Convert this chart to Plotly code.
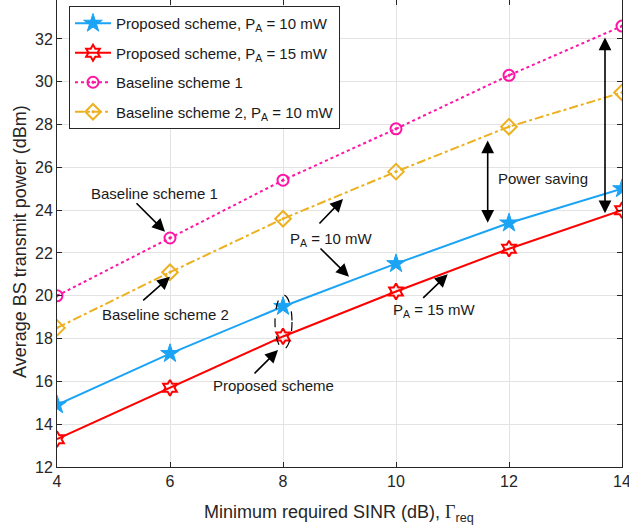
import plotly.graph_objects as go

# ---- data ----
sinr_db = [4, 6, 8, 10, 12, 14]
proposed_10mw = [14.9, 17.3, 19.5, 21.5, 23.4, 25.0]
proposed_15mw = [13.3, 15.7, 18.1, 20.2, 22.2, 24.0]
baseline1 = [20.0, 22.7, 25.4, 27.8, 30.3, 32.6]
baseline2_10mw = [18.5, 21.1, 23.6, 25.8, 27.9, 29.5]
x_ticks = [4, 6, 8, 10, 12, 14]
y_ticks = [12, 14, 16, 18, 20, 22, 24, 26, 28, 30, 32]

W, H = 629, 529
L, R, T, B = 57, 7, 0, 62
PW, PH = W - L - R, H - T - B
XR = [4, 14]
YR = [12, 33.82]
FONT = "Liberation Sans, Arial, sans-serif"

def px2x(px):
    return XR[0] + (px - L) / PW * (XR[1] - XR[0])

def px2y(py):
    return YR[1] - (py - T) / PH * (YR[1] - YR[0])

def ppx(px):
    return (px - L) / PW

def ppy(py):
    return 1 - (py - T) / PH

BLUE = "#1ba3f5"
RED = "#ff0000"
MAG = "#ff14a5"
ORA = "#edb120"

fig = go.Figure()
fig.add_trace(go.Scatter(x=sinr_db, y=proposed_10mw, mode="lines+markers",
                         name="Proposed scheme, P<sub>A</sub> = 10 mW", legendgroup="a",
                         line=dict(color=BLUE, width=2),
                         marker=dict(symbol="star", size=14, color=BLUE, line=dict(color=BLUE, width=1))))
fig.add_trace(go.Scatter(x=sinr_db, y=proposed_15mw, mode="lines+markers",
                         name="Proposed scheme, P<sub>A</sub> = 15 mW", legendgroup="b",
                         line=dict(color=RED, width=2),
                         marker=dict(symbol="hexagram-open", size=12, color=RED, line=dict(color=RED, width=2))))
fig.add_trace(go.Scatter(x=sinr_db, y=baseline1, mode="lines+markers",
                         name="Baseline scheme 1", legendgroup="c",
                         line=dict(color=MAG, width=2, dash="dot"),
                         marker=dict(symbol="circle-open-dot", size=11, color=MAG, line=dict(color=MAG, width=2))))
fig.add_trace(go.Scatter(x=sinr_db, y=baseline2_10mw, mode="lines+markers",
                         name="Baseline scheme 2, P<sub>A</sub> = 10 mW", legendgroup="d",
                         line=dict(color=ORA, width=2, dash="dashdot"),
                         marker=dict(symbol="diamond-open-dot", size=12, color=ORA, line=dict(color=ORA, width=2))))

def text_ann(txt, px, py):
    return dict(text=txt, x=px2x(px), y=px2y(py), xref="x", yref="y", showarrow=False,
                font=dict(family=FONT, size=15, color="#1a1a1a"), xanchor="center", yanchor="middle")

def arrow_ann(px0, py0, px1, py1, both=False):
    return dict(text="", x=px2x(px1), y=px2y(py1), ax=px2x(px0), ay=px2y(py0),
                xref="x", yref="y", axref="x", ayref="y", showarrow=True,
                arrowhead=2, arrowsize=1.6, arrowwidth=1.6, arrowcolor="black",
                arrowside="end+start" if both else "end", standoff=0, startstandoff=0)

anns = [
    text_ann("Baseline scheme 1", 154, 193),
    arrow_ann(135, 201.7, 165, 231.7),
    text_ann("Baseline scheme 2", 165, 314),
    arrow_ann(141.7, 301.7, 170, 276.7),
    text_ann("Proposed scheme", 273, 385),
    arrow_ann(253, 375, 278, 350),
    text_ann("P<sub>A</sub> = 10 mW", 331, 239),
    arrow_ann(318, 225, 343, 199),
    arrow_ann(319, 247, 349, 276.7),
    text_ann("P<sub>A</sub> = 15 mW", 434, 310),
    arrow_ann(421.7, 299.3, 447.7, 274.3),
    text_ann("Power saving", 543, 178),
    arrow_ann(487.7, 139, 487.7, 222.7, both=True),
    arrow_ann(605, 36, 605, 213.3, both=True),
    # axis titles
    dict(text="Minimum required SINR (dB), <span style=\"font-family:'Liberation Serif', 'Times New Roman', serif\">Γ</span><sub>req</sub>",
         x=ppx(339), y=ppy(513), xref="paper", yref="paper", showarrow=False,
         xanchor="center", yanchor="middle", font=dict(family=FONT, size=18, color="#262626")),
    dict(text="Average BS transmit power (dBm)", textangle=-90,
         x=ppx(20), y=ppy(242), xref="paper", yref="paper", showarrow=False,
         xanchor="center", yanchor="middle", font=dict(family=FONT, size=18, color="#262626")),
]

fig.add_shape(type="circle", xref="x", yref="y",
              x0=px2x(275), x1=px2x(292), y0=px2y(349), y1=px2y(295),
              line=dict(color="black", width=1.2, dash="dash"))

axis_common = dict(showline=True, linecolor="#262626", linewidth=1, mirror="ticks",
                   ticks="inside", ticklen=5, tickcolor="#262626", tickwidth=1,
                   showgrid=True, gridcolor="#e3e3e3", gridwidth=1, zeroline=False,
                   tickfont=dict(family=FONT, size=16, color="#262626"), automargin=False,
                   ticklabeloverflow="allow")

fig.update_layout(
    width=W, height=H,
    margin=dict(l=L, r=R, t=T, b=B),
    paper_bgcolor="white", plot_bgcolor="white",
    font=dict(family=FONT, size=15, color="#262626"),
    xaxis=dict(range=XR, tickvals=x_ticks, **axis_common),
    yaxis=dict(range=YR, tickvals=y_ticks, **axis_common),
    legend=dict(x=ppx(69), y=ppy(6),
                xanchor="left", yanchor="top",
                bgcolor="white", bordercolor="#262626", borderwidth=1,
                font=dict(family=FONT, size=15, color="#1a1a1a"),
                tracegroupgap=7, itemwidth=36),
    showlegend=True,
    annotations=anns,
)

fig.write_html("out.html", config={"displayModeBar": False},
               post_script="document.body.style.margin='0';document.body.style.overflow='hidden';")
